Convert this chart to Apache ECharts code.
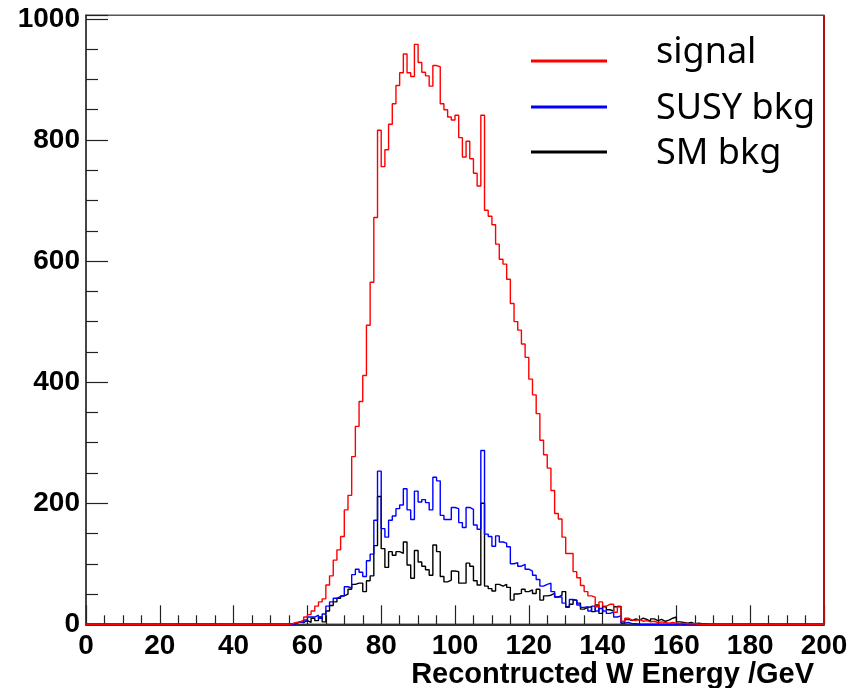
<!DOCTYPE html>
<html>
<head>
<meta charset="utf-8">
<script src="https://cdn.jsdelivr.net/npm/echarts@6/dist/echarts.min.js"></script>
<style>html,body{margin:0;padding:0;background:#fff}#c{width:852px;height:688px}</style>
</head>
<body>
<div id="c"></div>
<script>
// Histogram bins: 1 GeV wide, bins 0..199; arrays start at bin index binStart, zero elsewhere
const nBins = 200;
const binStart = 55;
const signal = [1,3,4,7,12,16,22,30,37,42,
  65,80,106,123,145,189,213,277,327,368,
  411,494,565,672,816,756,784,826,860,890,
  911,942,911,905,958,928,912,906,889,923,
  921,860,850,838,833,841,804,772,798,769,
  745,724,841,684,674,660,628,603,595,570,
  530,500,486,463,441,405,379,348,304,280,
  258,221,183,174,144,117,117,87,77,64,
  54,47,45,29,37,30,33,33,20,30,
  5,10,7,6,8,5,6,4,5,3,
  4,3,2,3,2,1,2,1,1,1];
const susyBkg = [0,1,4,3,7,12,12,15,10,17,
  30,37,43,46,47,62,60,82,91,86,
  79,105,116,172,253,158,144,172,179,191,
  197,224,189,173,220,202,206,201,189,243,
  237,180,173,173,193,191,168,160,193,190,
  164,157,287,149,145,129,146,136,134,128,
  100,102,96,99,91,88,81,74,63,66,
  68,54,45,45,35,28,41,40,32,28,
  29,22,30,22,26,22,18,20,12,14,
  2,3,1,1,0];
const smBkg = [1,2,4,3,6,3,10,6,12,4,
  22,31,37,43,47,50,58,66,68,68,
  54,72,80,130,211,125,94,120,114,120,
  117,136,98,76,122,103,96,90,81,131,
  120,79,70,73,88,87,68,68,101,96,
  72,65,200,63,59,55,66,63,66,61,
  40,50,51,58,54,57,51,58,40,47,
  48,51,45,48,54,29,33,40,35,25,
  28,29,21,32,18,29,24,22,29,29,
  2,8,6,9,7,10,8,5,9,6,
  8,5,7,10,12,4,3,2,3,1,
  2,1,1,0];
const seriesNames = ['signal', 'SUSY bkg', 'SM bkg'];
const xTitle = 'Recontructed W Energy /GeV';

function toSteps(vals) {
  const pts = [];
  let last = 0;
  for (let k = 0; k < nBins; k++) {
    const i = k - binStart;
    const v = (i >= 0 && i < vals.length) ? vals[i] : 0;
    pts.push([k, v]);
    last = v;
  }
  pts.push([nBins, last]);
  return pts;
}

const chart = echarts.init(document.getElementById('c'), null, {renderer: 'canvas'});
const labelFont = {fontFamily: 'Liberation Sans, Arial, sans-serif', fontWeight: 'bold', fontSize: 28, color: '#000'};
const lineSeries = (name, vals, color, extra) => Object.assign({
  name: name, type: 'line', step: 'end', data: toSteps(vals), showSymbol: false, symbol: 'none',
  clip: false, animation: false,
  lineStyle: {color: color, width: 1.4}, itemStyle: {color: color}
}, extra || {});

chart.setOption({
  animation: false,
  backgroundColor: '#fff',
  grid: {left: 86, right: 28, top: 15.3, bottom: 63.7, show: true, borderColor: '#555', borderWidth: 1.5, backgroundColor: 'transparent'},
  title: {text: xTitle, right: 38, top: 660, padding: 0,
    textStyle: {fontFamily: 'Liberation Sans, Arial, sans-serif', fontWeight: 'bold', fontSize: 29, color: '#000'}},
  xAxis: {
    type: 'value', min: 0, max: 200, interval: 20,
    axisLine: {show: true, onZero: false, lineStyle: {color: '#333', width: 2}},
    axisTick: {show: true, inside: true, length: 19, lineStyle: {color: '#222', width: 1.2}},
    minorTick: {show: true, splitNumber: 4, length: 9, lineStyle: {color: '#222', width: 1.2}},
    splitLine: {show: false},
    axisLabel: Object.assign({margin: 8}, labelFont)
  },
  yAxis: {
    type: 'value', min: 0, max: 1006, interval: 200,
    axisLine: {show: true, onZero: false, lineStyle: {color: '#333', width: 1.5}},
    axisTick: {show: true, inside: true, length: 22, lineStyle: {color: '#222', width: 1.2}},
    minorTick: {show: true, splitNumber: 4, length: 12, lineStyle: {color: '#222', width: 1.2}},
    splitLine: {show: false},
    axisLabel: Object.assign({margin: 6, showMaxLabel: false,
      formatter: v => (v % 200 === 0 ? String(v) : '')}, labelFont)
  },
  series: [
    lineSeries(seriesNames[2], smBkg, '#000000'),
    lineSeries(seriesNames[1], susyBkg, '#0000ff'),
    lineSeries(seriesNames[0], signal, '#ff0000', {
      markLine: {silent: true, symbol: 'none', animation: false, label: {show: false},
        lineStyle: {color: '#b01010', width: 2, type: 'solid'},
        data: [{xAxis: nBins}]}
    })
  ],
  graphic: [
    {type: 'line', shape: {x1: 531, y1: 61, x2: 607, y2: 61}, style: {stroke: '#ff0000', lineWidth: 3}},
    {type: 'line', shape: {x1: 531, y1: 107, x2: 607, y2: 107}, style: {stroke: '#0000ff', lineWidth: 3}},
    {type: 'line', shape: {x1: 531, y1: 152, x2: 607, y2: 152}, style: {stroke: '#000000', lineWidth: 3}},
    {type: 'text', left: 656, top: 35, style: {text: seriesNames[0], font: '36px "Noto Sans", sans-serif', fill: '#000'}},
    {type: 'text', left: 656, top: 91, style: {text: seriesNames[1], font: '36px "Noto Sans", sans-serif', fill: '#000'}},
    {type: 'text', left: 656, top: 136, style: {text: seriesNames[2], font: '36px "Noto Sans", sans-serif', fill: '#000'}}
  ]
});
</script>
</body>
</html>
